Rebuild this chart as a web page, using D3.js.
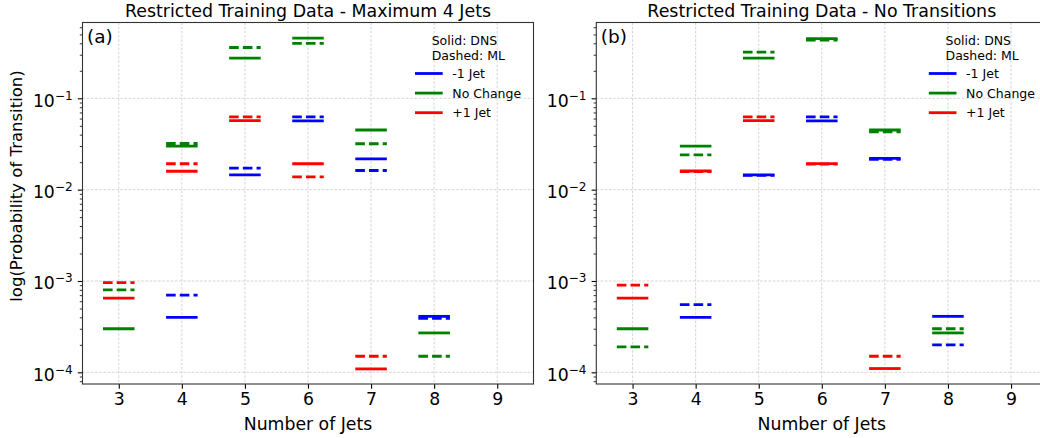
<!DOCTYPE html>
<html><head><meta charset="utf-8">
<script src="https://cdn.jsdelivr.net/npm/d3@7"></script>
<style>
body{margin:0;background:#fff}
svg{display:block;background:#fff}
text{font-family:"DejaVu Sans",sans-serif;fill:#000}
</style>
</head><body>
<svg id="chart" width="1040" height="438"></svg>
<script>
// ---------- data ----------
const jets = [3, 4, 5, 6, 7, 8, 9];
const xTicks = [3, 4, 5, 6, 7, 8, 9];
const yTicks = [1e-4, 1e-3, 1e-2, 1e-1];
const yTickExponents = ["\u22124", "\u22123", "\u22122", "\u22121"];
const transitionNames = ["-1 Jet", "No Change", "+1 Jet"];
const transitionColors = ["blue", "green", "red"];
const panelTitles = ["Restricted Training Data - Maximum 4 Jets", "Restricted Training Data - No Transitions"];
const panelTags = ["(a)", "(b)"];
const legendTitleLines = ["Solid: DNS", "Dashed: ML"];
const xLabel = "Number of Jets";
const yLabel = "log(Probability of Transition)";

// Panel (a): Maximum 4 Jets  (values per jet count 3..9)
const aDnsMinus1 = [null, 4.0e-4, 0.0145, 0.0565, 0.0217, 4.1e-4, null];
const aDnsNoChange = [3.0e-4, 0.030, 0.275, 0.456, 0.045, 2.7e-4, null];
const aDnsPlus1 = [6.5e-4, 0.0159, 0.057, 0.0192, 1.09e-4, null, null];
const aMlMinus1 = [null, 7.0e-4, 0.0172, 0.0625, 0.0162, 3.9e-4, null];
const aMlNoChange = [8.0e-4, 0.032, 0.36, 0.40, 0.0318, 1.5e-4, null];
const aMlPlus1 = [9.6e-4, 0.0192, 0.0625, 0.0138, 1.5e-4, null, null];

// Panel (b): No Transitions
const bDnsMinus1 = [null, 4.0e-4, 0.0145, 0.0565, 0.022, 4.1e-4, null];
const bDnsNoChange = [3.0e-4, 0.030, 0.275, 0.45, 0.045, 2.7e-4, null];
const bDnsPlus1 = [6.5e-4, 0.016, 0.057, 0.0193, 1.1e-4, null, null];
const bMlMinus1 = [null, 5.5e-4, 0.0143, 0.0625, 0.0215, 2.0e-4, null];
const bMlNoChange = [1.9e-4, 0.024, 0.32, 0.435, 0.043, 3.0e-4, null];
const bMlPlus1 = [9.0e-4, 0.0158, 0.0625, 0.019, 1.5e-4, null, null];

const xLimits = [2.425, 9.575];
const yLimits = [7.45e-5, 0.676];
const halfWidth = 0.25;

// ---------- layout ----------
const W = 1040, H = 438;
const axTop = 22.5, axBottom = 384, axW = 451;
const panelLefts = [82.5, 596.3];

const svg = d3.select("#chart");
svg.append("rect").attr("width", W).attr("height", H).attr("fill", "#fff");

const panels = [
  { dns: [aDnsMinus1, aDnsNoChange, aDnsPlus1], ml: [aMlMinus1, aMlNoChange, aMlPlus1] },
  { dns: [bDnsMinus1, bDnsNoChange, bDnsPlus1], ml: [bMlMinus1, bMlNoChange, bMlPlus1] }
];

panels.forEach((p, pi) => {
  const x0 = panelLefts[pi];
  const x = d3.scaleLinear().domain(xLimits).range([x0, x0 + axW]);
  const y = d3.scaleLog().domain(yLimits).range([axBottom, axTop]);
  const g = svg.append("g");

  const clipId = "clip" + pi;
  svg.append("clipPath").attr("id", clipId).append("rect")
    .attr("x", x0).attr("y", axTop).attr("width", axW).attr("height", axBottom - axTop);

  // grid
  const grid = g.append("g").attr("stroke", "#b0b0b0").attr("stroke-width", 0.7)
    .attr("stroke-dasharray", "2.6,1.6").attr("opacity", 0.75);
  xTicks.forEach(t => grid.append("line").attr("x1", x(t)).attr("x2", x(t)).attr("y1", axTop).attr("y2", axBottom));
  yTicks.forEach(t => grid.append("line").attr("x1", x0).attr("x2", x0 + axW).attr("y1", y(t)).attr("y2", y(t)));

  // data segments
  const marks = g.append("g").attr("clip-path", `url(#${clipId})`);
  [0, 1, 2].forEach(ti => {
    [["dns", null], ["ml", "9.6,4.1"]].forEach(([key, dash]) => {
      const vals = p[key][ti];
      const data = jets.map((j, i) => ({ j, v: vals[i] })).filter(d => d.v != null);
      marks.selectAll(null).data(data).enter().append("line")
        .attr("x1", d => x(d.j - halfWidth)).attr("x2", d => x(d.j + halfWidth))
        .attr("y1", d => y(d.v)).attr("y2", d => y(d.v))
        .attr("stroke", transitionColors[ti]).attr("stroke-width", 2.8)
        .attr("stroke-dasharray", dash);
    });
  });

  // x axis
  const xa = g.append("g").attr("transform", `translate(0,${axBottom})`)
    .call(d3.axisBottom(x).tickValues(xTicks).tickSize(4.7).tickPadding(4.5).tickFormat(d3.format("d")));
  xa.select(".domain").remove();
  xa.selectAll(".tick line").attr("stroke", "#000").attr("stroke-width", 1.1);
  xa.selectAll(".tick text").attr("font-size", 17.3).attr("font-family", "DejaVu Sans").attr("fill", "#000");

  // y axis major
  const ya = g.append("g").attr("transform", `translate(${x0},0)`)
    .call(d3.axisLeft(y).tickValues(yTicks).tickSize(4.7).tickFormat(""));
  ya.select(".domain").remove();
  ya.selectAll(".tick line").attr("stroke", "#000").attr("stroke-width", 1.1);
  ya.selectAll(".tick").each(function (d, i) {
    const t = d3.select(this).append("text").attr("x", -9.8).attr("y", 8)
      .attr("text-anchor", "end").attr("font-size", 17.3).attr("fill", "#000");
    t.append("tspan").text("10");
    t.append("tspan").attr("font-size", 12.1).attr("dy", -7.2).text(yTickExponents[i]);
  });

  // y minor ticks
  const minors = [];
  for (let e = -5; e <= 0; e++) for (let m = 2; m <= 9; m++) {
    const v = m * Math.pow(10, e);
    if (v >= yLimits[0] && v <= yLimits[1]) minors.push(v);
  }
  const ym = g.append("g").attr("transform", `translate(${x0},0)`)
    .call(d3.axisLeft(y).tickValues(minors).tickSize(2.7).tickFormat(""));
  ym.select(".domain").remove();
  ym.selectAll(".tick line").attr("stroke", "#000").attr("stroke-width", 0.8);

  // frame
  g.append("rect").attr("x", x0).attr("y", axTop).attr("width", axW).attr("height", axBottom - axTop)
    .attr("fill", "none").attr("stroke", "#333").attr("stroke-width", 1.1);

  // titles & labels
  g.append("text").attr("x", x0 + axW / 2).attr("y", 16.5).attr("text-anchor", "middle")
    .attr("font-size", 17.4).text(panelTitles[pi]);
  g.append("text").attr("x", x0 + axW / 2).attr("y", 429.5).attr("text-anchor", "middle")
    .attr("font-size", 17.3).text(xLabel);
  if (pi === 0) {
    g.append("text").attr("transform", `translate(21.5,186) rotate(-90)`)
      .attr("text-anchor", "middle").attr("font-size", 16.5).text(yLabel);
  }
  g.append("text").attr("x", x0 + 4.5).attr("y", 42.6).attr("font-size", 18.5).text(panelTags[pi]);

  // legend
  const xr = x0 + axW;
  const lg = g.append("g");
  legendTitleLines.forEach((s, k) => {
    lg.append("text").attr("x", xr - 101.8).attr("y", 45 + k * 15.2).attr("font-size", 12.5).text(s);
  });
  transitionNames.forEach((name, k) => {
    const cy = 73.5 + k * 19.6;
    lg.append("line").attr("x1", xr - 118.5).attr("x2", xr - 90.8).attr("y1", cy).attr("y2", cy)
      .attr("stroke", transitionColors[k]).attr("stroke-width", 2.8);
    lg.append("text").attr("x", xr - 81.2).attr("y", cy + 4.5).attr("font-size", 12.5).text(name);
  });
});
</script>
</body></html>
